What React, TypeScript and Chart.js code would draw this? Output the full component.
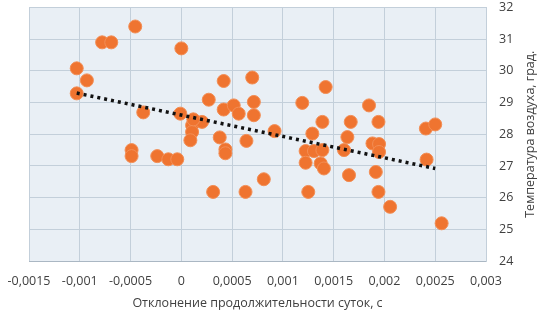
import React, { useEffect, useRef } from "react";
import { Chart, registerables } from "chart.js";

Chart.register(...registerables);

const deviationX: number[] = [
  -0.00103, -0.00093, -0.00103, -0.00078, -0.00069, -0.000454, -0.000375, -0.00049, -0.00049, -0.000237,
  -0.000128, -0.00004, 0.0, -0.00001, 0.000106, 0.000106, 0.000089, 0.000204, 0.000118, 0.00027,
  0.000417, 0.000698, 0.000417, 0.000516, 0.000565, 0.000714, 0.000714, 0.000378, 0.000434, 0.000434,
  0.000641, 0.000918, 0.000812, 0.000313, 0.000632, 0.001191, 0.001421, 0.001848, 0.001389, 0.001668,
  0.001941, 0.00129, 0.001635, 0.001882, 0.001947, 0.001602, 0.001224, 0.001306, 0.001389, 0.001947,
  0.001224, 0.001372, 0.001404, 0.001651, 0.001915, 0.002408, 0.0025, 0.002415, 0.00125, 0.001941,
  0.002056, 0.002563,
];

const temperatureY: number[] = [
  30.08, 29.7, 29.29, 30.9, 30.9, 31.4, 28.69, 27.5, 27.31, 27.31,
  27.21, 27.21, 30.71, 28.65, 28.28, 28.07, 27.81, 28.39, 28.47, 29.09,
  29.68, 29.79, 28.78, 28.91, 28.65, 29.02, 28.6, 27.9, 27.52, 27.4,
  27.79, 28.1, 26.58, 26.18, 26.18, 28.99, 29.49, 28.91, 28.39, 28.39,
  28.39, 28.02, 27.91, 27.71, 27.69, 27.5, 27.47, 27.47, 27.5, 27.44,
  27.1, 27.08, 26.92, 26.71, 26.81, 28.18, 28.31, 27.2, 26.18, 26.18,
  25.71, 25.19,
];

const trendX: number[] = [-0.00103, 0.0025];
const trendY: number[] = [29.3, 26.92];

const xTickLabels: string[] = [
  "-0,0015", "-0,001", "-0,0005", "0", "0,0005", "0,001", "0,0015", "0,002", "0,0025", "0,003",
];
const yTickLabels: string[] = ["24", "25", "26", "27", "28", "29", "30", "31", "32"];

const xTitle = "Отклонение продолжительности суток, с";
const yTitle = "Температура воздуха, град.";

const FONT = "'Open Sans', 'DejaVu Sans', sans-serif";
const TEXT = "#404040";

export default function App() {
  const ref = useRef<HTMLCanvasElement | null>(null);

  useEffect(() => {
    if (!ref.current) return;
    const bgPlugin = {
      id: "plotBg",
      beforeDraw(chart: any) {
        const { ctx, chartArea } = chart;
        ctx.save();
        ctx.fillStyle = "#E9EFF5";
        ctx.fillRect(chartArea.left, chartArea.top, chartArea.right - chartArea.left, chartArea.bottom - chartArea.top);
        ctx.restore();
      },
      afterDraw(chart: any) {
        const { ctx, chartArea } = chart;
        ctx.save();
        ctx.font = `12.5px ${FONT}`;
        ctx.fillStyle = TEXT;
        ctx.textAlign = "center";
        ctx.textBaseline = "middle";
        ctx.translate(530, (chartArea.top + chartArea.bottom) / 2);
        ctx.rotate(-Math.PI / 2);
        ctx.fillText(yTitle, 0, 0);
        ctx.restore();
      },
    };

    const chart = new Chart(ref.current, {
      type: "scatter",
      data: {
        datasets: [
          {
            type: "line",
            label: "trend",
            data: trendX.map((x, i) => ({ x, y: trendY[i] })),
            borderColor: "#111111",
            borderWidth: 3.5,
            borderDash: [3, 4],
            pointRadius: 0,
            fill: false,
            order: 0,
          } as any,
          {
            label: "data",
            data: deviationX.map((x, i) => ({ x, y: temperatureY[i] })),
            backgroundColor: "#EF7430",
            borderColor: "#F38E55",
            borderWidth: 1,
            pointRadius: 6.5,
            order: 1,
          },
        ],
      },
      options: {
        animation: false,
        responsive: false,
        layout: { padding: { left: 29, top: 5, right: 0, bottom: 0 } },
        plugins: { legend: { display: false }, tooltip: { enabled: false } },
        scales: {
          x: {
            type: "linear",
            min: -0.0015,
            max: 0.003,
            ticks: {
              stepSize: 0.0005,
              padding: 13,
              color: TEXT,
              font: { family: FONT, size: 12.5 },
              maxRotation: 0,
              autoSkip: false,
              callback: (_v: any, i: number) => xTickLabels[i],
            },
            grid: { color: "#C3CFDA", drawTicks: false, lineWidth: 1 },
            border: { color: "#AAB7C3" },
            title: {
              display: true,
              text: xTitle,
              color: TEXT,
              font: { family: FONT, size: 12.5 },
              padding: { top: 4, bottom: 8 },
            },
            afterFit: (s: any) => {
              s.height = 58;
              s.paddingLeft = 0;
              s.paddingRight = 0;
            },
          },
          y: {
            type: "linear",
            position: "right",
            min: 24,
            max: 32,
            ticks: {
              stepSize: 1,
              padding: 13,
              color: TEXT,
              font: { family: FONT, size: 12.5 },
              callback: (_v: any, i: number) => yTickLabels[i],
            },
            grid: { color: "#C3CFDA", drawTicks: false, lineWidth: 1 },
            border: { color: "#C3CFDA" },
            afterFit: (s: any) => {
              s.width = 58;
              s.paddingTop = 0;
              s.paddingBottom = 0;
            },
          },
        },
      },
      plugins: [bgPlugin],
    });
    return () => chart.destroy();
  }, []);

  return (
    <div style={{ position: "absolute", left: 0, top: 0, width: 544, height: 319, background: "#fff" }}>
      <canvas ref={ref} width={544} height={319} style={{ display: "block" }} />
    </div>
  );
}
